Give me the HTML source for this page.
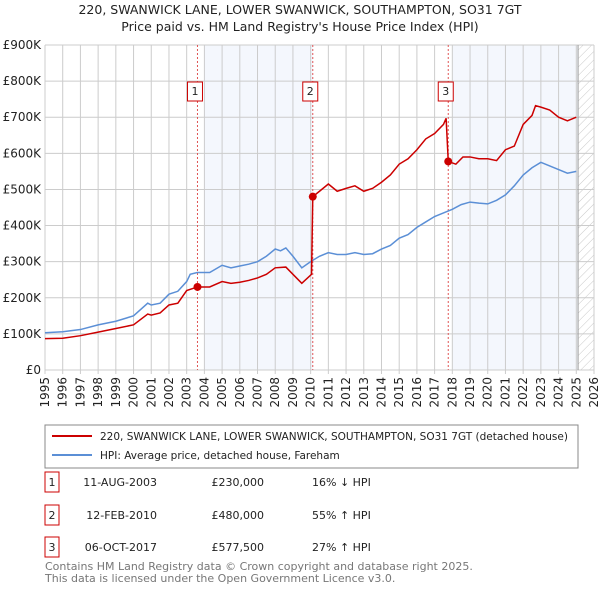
<!DOCTYPE html>
<html><head><meta charset="utf-8"><style>
body{margin:0;background:#fff;font-family:"Liberation Sans","DejaVu Sans",sans-serif;}
#wrap{position:relative;width:600px;height:590px;overflow:hidden;}
</style></head><body>
<div id="wrap">
<svg id="chart" width="600" height="590" xmlns="http://www.w3.org/2000/svg" font-family="DejaVu Sans, Liberation Sans, sans-serif">
<defs><pattern id="hatch" width="6" height="6" patternUnits="userSpaceOnUse" patternTransform="rotate(45)"><line x1="0" y1="0" x2="0" y2="6" stroke="#bbb" stroke-width="0.8"/></pattern></defs>
<text x="300" y="14" text-anchor="middle" font-size="12.5" fill="#222">220, SWANWICK LANE, LOWER SWANWICK, SOUTHAMPTON, SO31 7GT</text>
<text x="300" y="31" text-anchor="middle" font-size="12.5" fill="#222">Price paid vs. HM Land Registry's House Price Index (HPI)</text>
<g id="bg"></g><g id="grid"></g><g id="series"></g><g id="axes"></g>
<rect x="45" y="425" width="533" height="43" fill="#fff" stroke="#888"/>
<line x1="52" y1="436" x2="92" y2="436" stroke="#cc0000" stroke-width="2"/>
<text x="100" y="440" font-size="10.5" fill="#222">220, SWANWICK LANE, LOWER SWANWICK, SOUTHAMPTON, SO31 7GT (detached house)</text>
<line x1="52" y1="455" x2="92" y2="455" stroke="#5b8fd6" stroke-width="2"/>
<text x="100" y="459" font-size="10.5" fill="#222">HPI: Average price, detached house, Fareham</text>
<g font-size="11" fill="#222">
<rect x="45" y="472" width="14" height="20" fill="#fff" stroke="#cc0000"/><text x="52" y="486" text-anchor="middle">1</text>
<text x="157" y="486" text-anchor="end">11-AUG-2003</text>
<text x="264" y="486" text-anchor="end">£230,000</text>
<text x="312" y="486">16% ↓ HPI</text>
<rect x="45" y="505" width="14" height="20" fill="#fff" stroke="#cc0000"/><text x="52" y="519" text-anchor="middle">2</text>
<text x="157" y="519" text-anchor="end">12-FEB-2010</text>
<text x="264" y="519" text-anchor="end">£480,000</text>
<text x="312" y="519">55% ↑ HPI</text>
<rect x="45" y="537" width="14" height="20" fill="#fff" stroke="#cc0000"/><text x="52" y="551" text-anchor="middle">3</text>
<text x="157" y="551" text-anchor="end">06-OCT-2017</text>
<text x="264" y="551" text-anchor="end">£577,500</text>
<text x="312" y="551">27% ↑ HPI</text>
</g>
<text x="45" y="570" font-size="11" fill="#777">Contains HM Land Registry data © Crown copyright and database right 2025.</text>
<text x="45" y="582" font-size="11" fill="#777">This data is licensed under the Open Government Licence v3.0.</text>
</svg>
</div>
<script>
const hpiYears=[1995,1996,1997,1998,1999,2000,2000.8,2001,2001.5,2002,2002.5,2003,2003.2,2003.6,2004.3,2005,2005.5,2006,2006.5,2007,2007.5,2008,2008.3,2008.6,2009,2009.5,2010,2010.5,2011,2011.5,2012,2012.5,2013,2013.5,2014,2014.5,2015,2015.5,2016,2016.5,2017,2017.5,2018,2018.5,2019,2019.5,2020,2020.5,2021,2021.5,2022,2022.5,2023,2023.5,2024,2024.5,2025];
const hpiValues=[103,106,112,125,135,150,185,180,185,210,218,245,265,270,270,290,283,288,293,300,315,335,330,338,315,283,300,315,325,320,320,325,320,322,335,345,365,375,395,410,425,435,445,458,465,462,460,470,485,510,540,560,575,565,555,545,550];
const priceYears=[1995,1996,1997,1998,1999,2000,2000.8,2001,2001.5,2002,2002.5,2003,2003.61,2004.3,2005,2005.5,2006,2006.5,2007,2007.5,2008,2008.6,2009,2009.5,2010.05,2010.12,2010.5,2011,2011.5,2012,2012.5,2013,2013.5,2014,2014.5,2015,2015.5,2016,2016.5,2017,2017.5,2017.65,2017.77,2018.2,2018.6,2019,2019.5,2020,2020.5,2021,2021.5,2022,2022.5,2022.7,2023,2023.5,2024,2024.5,2025];
const priceValues=[87,88,95,105,115,125,155,152,158,180,185,220,230,230,245,240,243,248,255,265,283,285,265,240,265,480,495,515,495,503,510,495,503,520,540,570,585,610,640,655,680,697,577.5,570,590,590,585,585,580,610,620,680,705,732,728,720,700,690,700];
const saleYears=[2003.61,2010.12,2017.77];
const saleValues=[230,480,577.5];
const saleLabels=["1","2","3"];
const yTicks=[0,100,200,300,400,500,600,700,800,900];
const yTickLabels=["£0","£100K","£200K","£300K","£400K","£500K","£600K","£700K","£800K","£900K"];
const xTicks=[1995,1996,1997,1998,1999,2000,2001,2002,2003,2004,2005,2006,2007,2008,2009,2010,2011,2012,2013,2014,2015,2016,2017,2018,2019,2020,2021,2022,2023,2024,2025,2026];

const X0=45,X1=594,Y0=370,Y1=45;
const xs=y=>X0+(y-1995)/(2026-1995)*(X1-X0);
const ys=v=>Y0-v/900*(Y0-Y1);
const NS="http://www.w3.org/2000/svg";
function mk(tag,attrs,parent){const e=document.createElementNS(NS,tag);for(const k in attrs)e.setAttribute(k,attrs[k]);parent.appendChild(e);return e;}
const bg=document.getElementById('bg'),grid=document.getElementById('grid'),ser=document.getElementById('series'),ax=document.getElementById('axes');
let r=mk('rect',{x:X0,y:Y1,width:X1-X0,height:Y0-Y1,fill:'#fff'},bg);


r=mk('rect',{x:xs(2004),y:Y1,width:xs(2010.12)-xs(2004),height:Y0-Y1,fill:'#f4f7fd'},bg);


r=mk('rect',{x:xs(2018),y:Y1,width:xs(2025.1)-xs(2018),height:Y0-Y1,fill:'#f4f7fd'},bg);


r=mk('rect',{x:xs(2025.1),y:Y1,width:X1-xs(2025.1),height:Y0-Y1,fill:'url(#hatch)'},bg);


yTicks.forEach((v,i)=>{
  const l=mk('line',{x1:X0,x2:X1,y1:ys(v),y2:ys(v),stroke:'#ccc','stroke-width':1},grid);
  
  
  const t=mk('text',{x:X0-4,y:ys(v)+4,'text-anchor':'end','font-size':12,fill:'#222'},ax);
  t.textContent=yTickLabels[i];
  
  
});
xTicks.forEach(y=>{
  const l=mk('line',{x1:xs(y),x2:xs(y),y1:Y1,y2:Y0+4,stroke:'#ccc','stroke-width':1},grid);
  
  
  const t=mk('text',{x:0,y:0,'text-anchor':'end','font-size':12,fill:'#222',transform:`translate(${xs(y)+4},${Y0+7}) rotate(-90)`},ax);
  t.textContent=y;
  
  
});
let v=mk('line',{x1:xs(2025.1),x2:xs(2025.1),y1:Y1,y2:Y0,stroke:'#999','stroke-width':1},grid);


saleYears.forEach((y,i)=>{
  const l=mk('line',{x1:xs(y),x2:xs(y),y1:Y1,y2:Y0,stroke:'#e05555','stroke-width':1,'stroke-dasharray':'2,2'},ser);
  
  
  const b=mk('rect',{x:xs(y)-10,y:82,width:15,height:19,fill:'#fff',stroke:'#cc0000'},ser);
  
  
  const t=mk('text',{x:xs(y)-2.5,y:95,'text-anchor':'middle','font-size':11,fill:'#222'},ser);
  t.textContent=saleLabels[i];
  
  
});
let p=mk('polyline',{points:hpiYears.map((y,i)=>xs(y)+','+ys(hpiValues[i])).join(' '),fill:'none',stroke:'#5b8fd6','stroke-width':1.5},ser);


p=mk('polyline',{points:priceYears.map((y,i)=>xs(y)+','+ys(priceValues[i])).join(' '),fill:'none',stroke:'#cc0000','stroke-width':1.5},ser);


saleYears.forEach((y,i)=>{
  const c=mk('circle',{cx:xs(y),cy:ys(saleValues[i]),r:4,fill:'#cc0000'},ser);
  
  
});
</script>
</body></html>
